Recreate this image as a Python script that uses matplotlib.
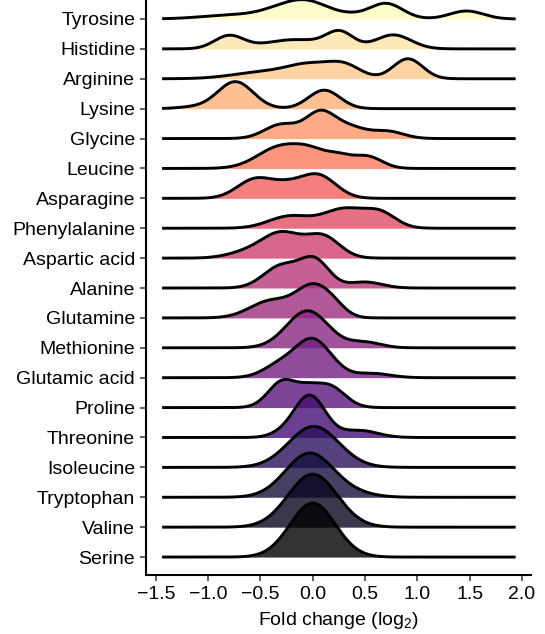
import numpy as np
import matplotlib
matplotlib.use("Agg")
import matplotlib.pyplot as plt

plt.rcParams['font.family'] = ['Liberation Sans', 'DejaVu Sans']
plt.rcParams['mathtext.default'] = 'regular'

# Amino acids, bottom row first
amino_acids = ["Serine", "Valine", "Tryptophan", "Isoleucine", "Threonine",
               "Proline", "Glutamic acid", "Methionine", "Glutamine", "Alanine",
               "Aspartic acid", "Phenylalanine", "Asparagine", "Leucine",
               "Glycine", "Lysine", "Arginine", "Histidine", "Tyrosine"]

# Density modes: (centre log2 FC, height, width)
# heights are in units of 1/30 of the row spacing
modes = {
    "Serine":        [(0.00, 54, 0.217)],
    "Valine":        [(0.00, 53, 0.235)],
    "Tryptophan":    [(-0.03, 44, 0.23), (0.40, 3, 0.20)],
    "Isoleucine":    [(0.01, 41, 0.24)],
    "Threonine":     [(-0.03, 42, 0.15), (0.45, 7, 0.17), (-0.30, 3, 0.12)],
    "Proline":       [(-0.28, 27, 0.14), (0.15, 22, 0.15), (-0.05, 9, 0.10)],
    "Glutamic acid": [(-0.28, 15, 0.17), (0.00, 34, 0.15), (0.20, 6, 0.12), (0.55, 4.5, 0.18)],
    "Methionine":    [(-0.05, 37, 0.20), (0.50, 5.5, 0.15)],
    "Glutamine":     [(-0.40, 17, 0.20), (0.00, 30, 0.16), (0.20, 8, 0.12)],
    "Alanine":       [(-0.30, 22, 0.17), (0.02, 27, 0.14), (0.50, 6, 0.16)],
    "Aspartic acid": [(-0.30, 25, 0.19), (0.10, 21, 0.16), (-0.65, 5, 0.18)],
    "Phenylalanine": [(-0.22, 12, 0.20), (0.30, 19, 0.20), (0.65, 14, 0.15)],
    "Asparagine":    [(-0.55, 19, 0.17), (0.05, 23, 0.17), (-0.25, 10, 0.15)],
    "Leucine":       [(-0.30, 22, 0.22), (0.00, 12, 0.15), (0.25, 10, 0.12), (0.52, 12, 0.14)],
    "Glycine":       [(-0.30, 14, 0.16), (0.07, 25, 0.14), (0.35, 11, 0.16), (0.72, 7, 0.15)],
    "Lysine":        [(-0.74, 27, 0.17), (0.11, 18.5, 0.15), (-1.15, 1.5, 0.15)],
    "Arginine":      [(-0.45, 7, 0.30), (-0.03, 12, 0.20), (0.30, 13, 0.16), (0.91, 20, 0.14)],
    "Histidine":     [(-0.80, 13, 0.14), (-0.25, 7.5, 0.25), (0.26, 16, 0.13), (0.77, 14, 0.17), (0.00, 3, 0.20)],
    "Tyrosine":      [(-0.75, 4, 0.30), (-0.30, 8, 0.20), (-0.03, 15, 0.20), (0.35, 3, 0.15), (0.70, 15.5, 0.16), (1.47, 8, 0.16)],
}

x_range = (-1.44, 1.94)
x_ticks = [-1.5, -1.0, -0.5, 0.0, 0.5, 1.0, 1.5, 2.0]
x_ticklabels = ["\u22121.5", "\u22121.0", "\u22120.5", "0.0", "0.5", "1.0", "1.5", "2.0"]

fig = plt.figure(figsize=(5.45, 6.34), dpi=100)
ax = fig.add_axes([146/545, 59/634, (531-146)/545, 575/634])

xs = np.linspace(x_range[0], x_range[1], 600)
n = len(amino_acids)
cmap = matplotlib.colormaps['magma']
for i, aa in enumerate(amino_acids):
    dens = np.zeros_like(xs)
    for c, h, w in modes[aa]:
        dens += h * np.exp(-0.5 * ((xs - c) / w) ** 2)
    y = i + dens / 29.9
    col = cmap(i / (n - 1))
    z = 100 - i * 2
    ax.fill_between(xs, i, y, color=col, alpha=0.8, linewidth=0, zorder=z)
    ax.plot(xs, y, color='black', linewidth=2.1, zorder=z + 1, solid_capstyle='butt')

ax.set_xlim(-1.594, 2.087)
ax.set_ylim(-0.6, 18.635)
ax.set_yticks(range(n))
ax.set_yticklabels(amino_acids, fontsize=14, color='black')
ax.set_xticks(x_ticks)
ax.set_xticklabels(x_ticklabels, fontsize=14, color='black')
ax.set_xlabel("Fold change (log$_{2}$)", fontsize=14, labelpad=5)
for s in ['top', 'right']:
    ax.spines[s].set_visible(False)
for s in ['left', 'bottom']:
    ax.spines[s].set_linewidth(1.5)
ax.tick_params(axis='both', length=4.3, width=1.1, color='#333333', pad=3.5)

fig.savefig("out.png", dpi=100)
